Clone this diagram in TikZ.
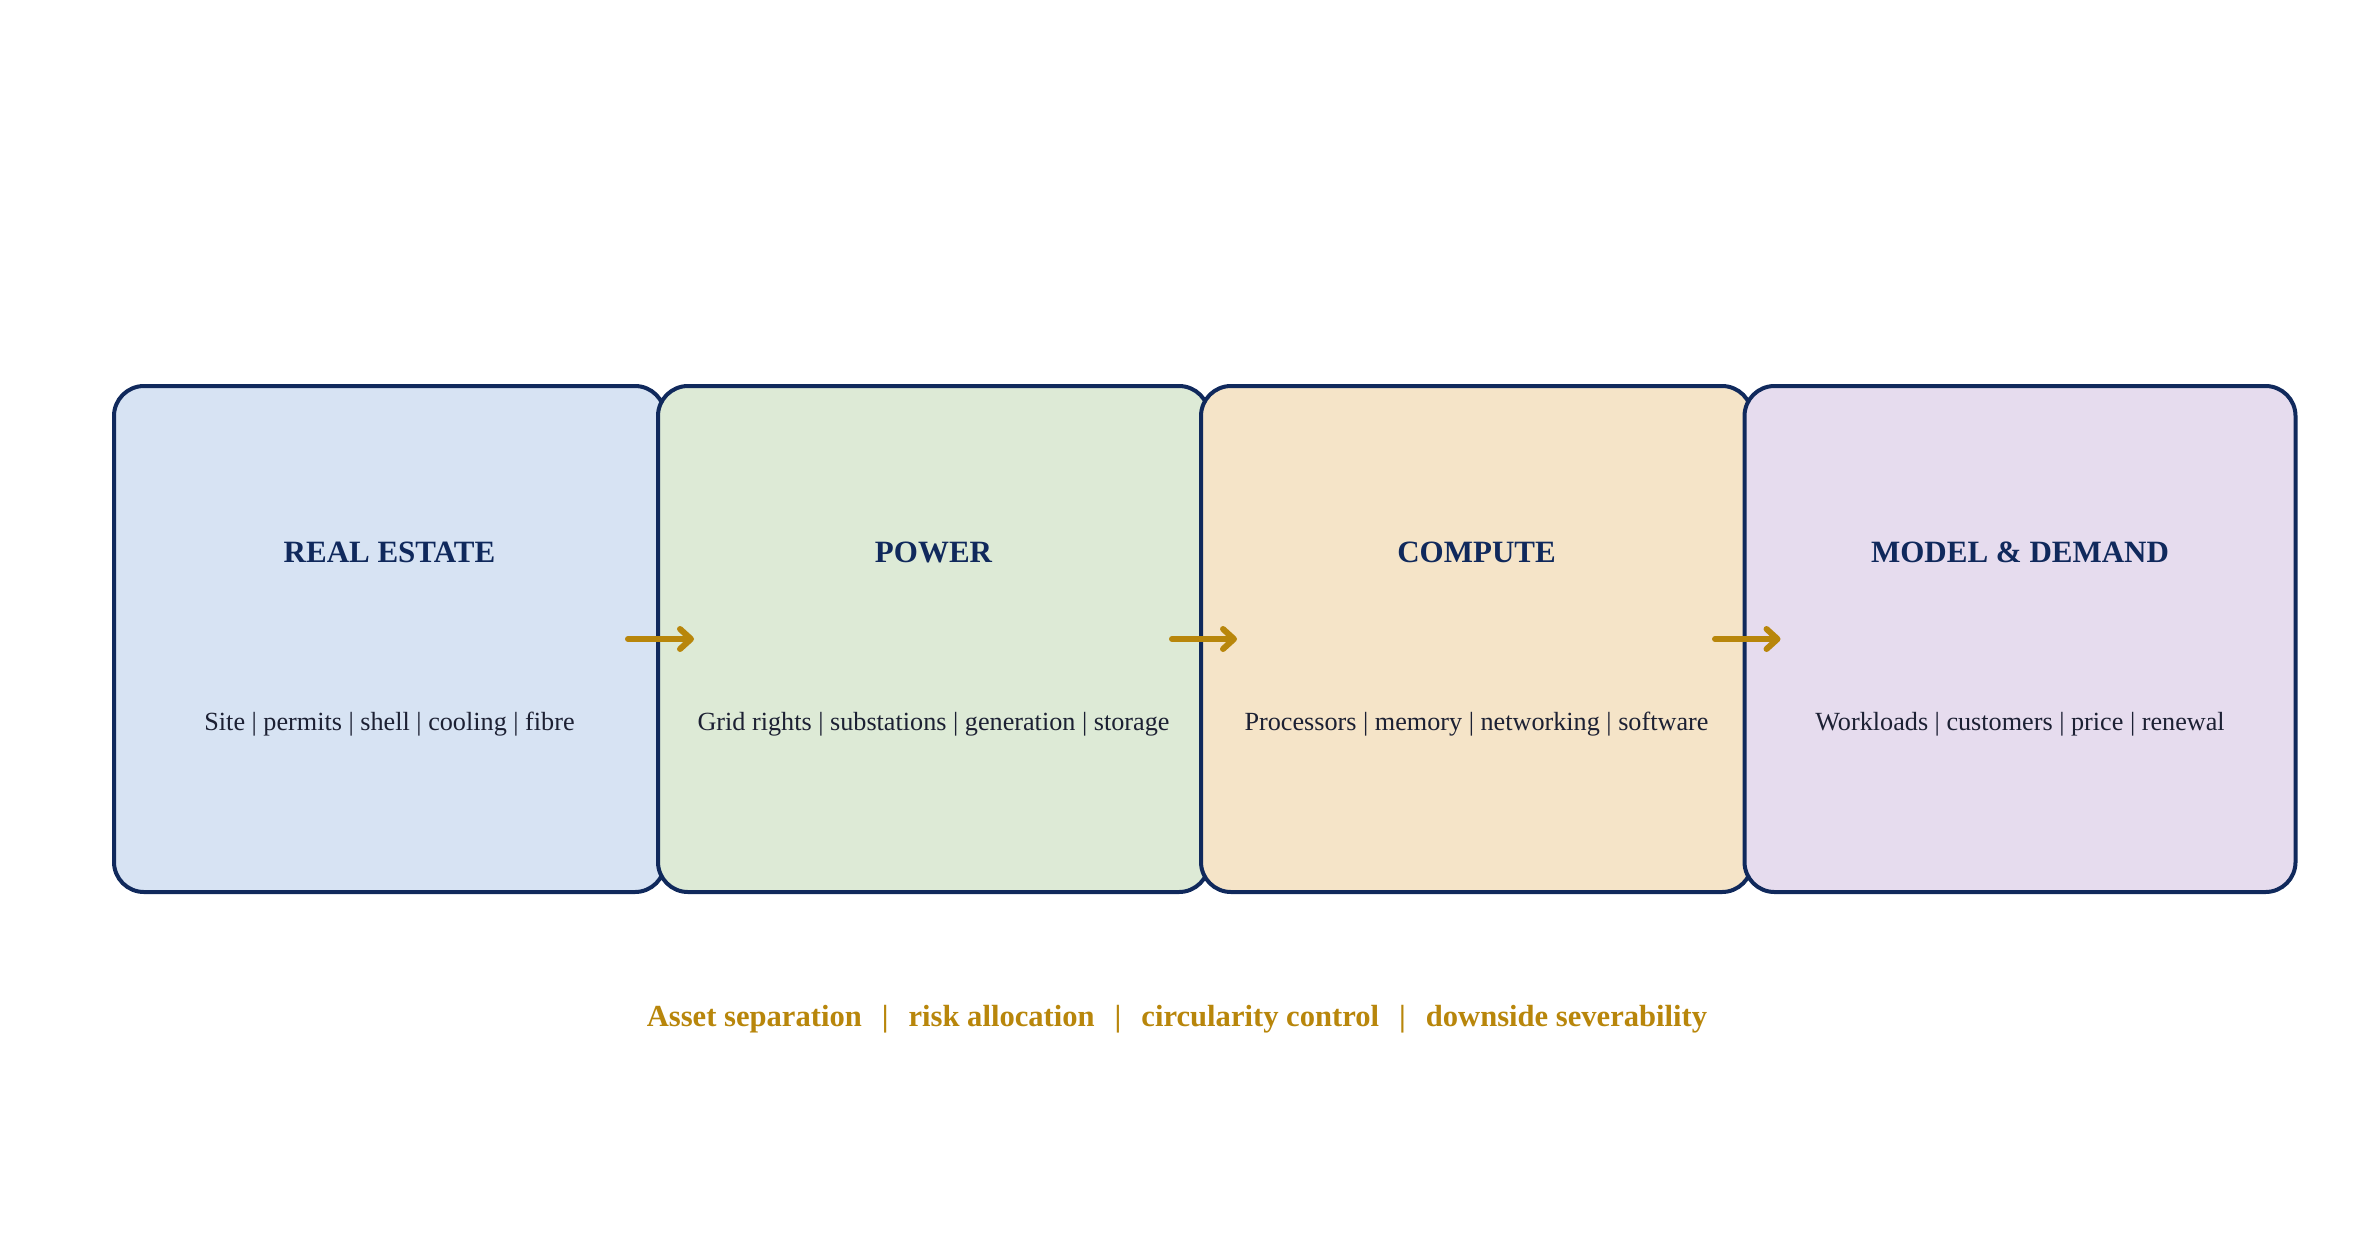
\documentclass[tikz,border=0pt]{standalone}
\usepackage{fontspec}
\setmainfont{Liberation Serif}
\usetikzlibrary{arrows.meta}
\definecolor{navy}{HTML}{10295C}
\definecolor{gold}{HTML}{B8860B}
\definecolor{subtxt}{HTML}{1C2033}
\definecolor{fillA}{HTML}{D7E3F3}
\definecolor{fillB}{HTML}{DDEAD6}
\definecolor{fillC}{HTML}{F5E4C8}
\definecolor{fillD}{HTML}{E6DCEE}
\tikzset{
  stagebox/.style={draw=navy, line width=2pt, rounded corners=15pt,
    minimum width=275.5pt, minimum height=253pt, inner sep=0pt},
  stagetitle/.style={font=\fontsize{15.5}{18}\selectfont\bfseries, text=navy, inner sep=0pt},
  stagesub/.style={font=\fontsize{13.1}{16}\selectfont, text=subtxt, inner sep=0pt},
  flowarrow/.style={draw=gold, line width=3pt, line cap=round,
    -{Straight Barb[length=5.5pt,width=10pt,round]}},
  bottomtext/.style={font=\fontsize{15.3}{18}\selectfont\bfseries, text=gold, inner sep=0pt}
}
\newcommand{\sepbar}{\hspace{10pt}|\hspace{10pt}}
\begin{document}
\begin{tikzpicture}[x=0.5pt,y=-0.5pt]
\useasboundingbox (0,0) rectangle (2354,1254);
\node[stagebox, fill=fillA] (b1) at (389.5,639) {};
\node[stagebox, fill=fillB] (b2) at (933.5,639) {};
\node[stagebox, fill=fillC] (b3) at (1476.5,639) {};
\node[stagebox, fill=fillD] (b4) at (2020,639) {};
\node[stagetitle] (t1) at (389.5,552.5) {REAL ESTATE};
\node[stagetitle] (t2) at (933.5,552.5) {POWER};
\node[stagetitle] (t3) at (1476.5,552.5) {COMPUTE};
\node[stagetitle] (t4) at (2020,552.5) {MODEL \& DEMAND};
\node[stagesub] (s1) at (389.5,724) {Site | permits | shell | cooling | fibre};
\node[stagesub] (s2) at (933.5,724) {Grid rights | substations | generation | storage};
\node[stagesub] (s3) at (1476.5,724) {Processors | memory | networking | software};
\node[stagesub] (s4) at (2020,724) {Workloads | customers | price | renewal};
\draw[flowarrow] ([xshift=-19.5pt]b1.east) -- ([xshift=19pt]b2.west);
\draw[flowarrow] ([xshift=-19.5pt]b2.east) -- ([xshift=19pt]b3.west);
\draw[flowarrow] ([xshift=-19.5pt]b3.east) -- ([xshift=19pt]b4.west);
\node[bottomtext] (foot) at (1177,1019) {Asset separation\sepbar risk allocation\sepbar circularity control\sepbar downside severability};
\end{tikzpicture}
\end{document}
